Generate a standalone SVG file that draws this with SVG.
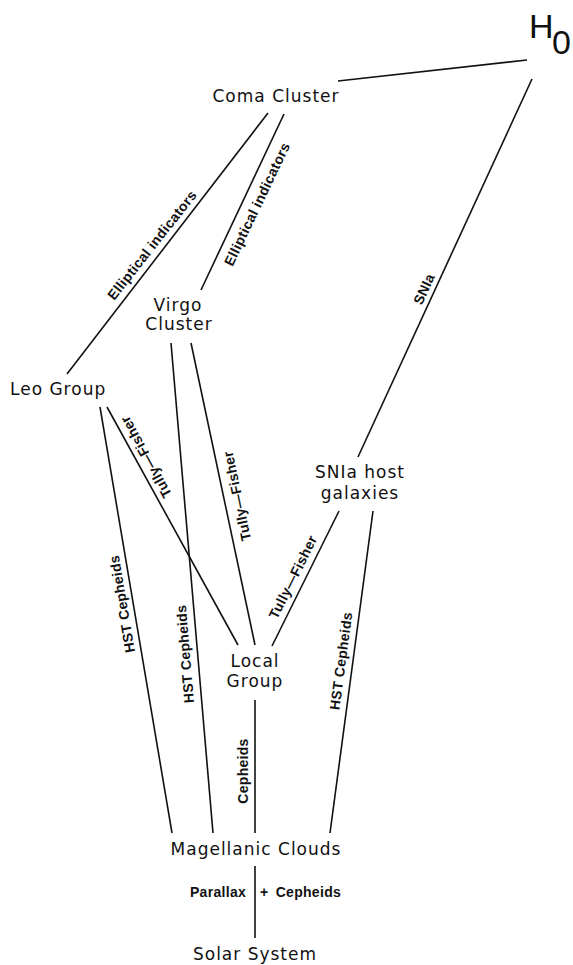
<svg xmlns="http://www.w3.org/2000/svg" width="573" height="965" viewBox="0 0 573 965">
<style>
.n{font-family:"DejaVu Sans",sans-serif;font-size:17px;letter-spacing:1px;fill:#111;text-anchor:middle}
.l{font-family:"Liberation Sans",Arial,sans-serif;font-size:14px;font-weight:bold;letter-spacing:0.3px;fill:#111;text-anchor:middle}
.h{font-family:"Liberation Sans",Arial,sans-serif;font-size:34px;fill:#111}
#connectors line{stroke:#111;stroke-width:1.6;fill:none}
</style>
<rect width="573" height="965" fill="#fff"/>
<g id="connectors">
<line x1="338" y1="81" x2="527" y2="60"/>
<line x1="532" y1="79" x2="358" y2="457"/>
<line x1="268" y1="113" x2="67" y2="374"/>
<line x1="284" y1="114" x2="201" y2="290"/>
<line x1="100" y1="407" x2="172" y2="833"/>
<line x1="107" y1="407" x2="238" y2="645"/>
<line x1="171" y1="343" x2="213" y2="833"/>
<line x1="191" y1="343" x2="255" y2="645"/>
<line x1="339" y1="511" x2="272" y2="646"/>
<line x1="373" y1="511" x2="330" y2="833"/>
<line x1="255" y1="700" x2="255" y2="833"/>
<line x1="255" y1="866" x2="255" y2="938"/>
</g>
<g id="labels">
<text class="l" transform="translate(152,245) rotate(-51.8)" dy="0.35em">Elliptical indicators</text>
<text class="l" transform="translate(257,204) rotate(-64.5)" dy="0.35em">Elliptical indicators</text>
<text class="l" transform="translate(424,289) rotate(-65.3)" dy="0.35em">SNIa</text>
<text class="l" transform="translate(146,457) rotate(-118.8)" dy="0.35em">Tully—Fisher</text>
<text class="l" transform="translate(237,496) rotate(-101.9)" dy="0.35em">Tully—Fisher</text>
<text class="l" transform="translate(293,577) rotate(-63.6)" dy="0.35em">Tully—Fisher</text>
<text class="l" transform="translate(122,604) rotate(-99.6)" dy="0.35em">HST Cepheids</text>
<text class="l" transform="translate(185,654) rotate(-94.8)" dy="0.35em">HST Cepheids</text>
<text class="l" transform="translate(341,661) rotate(-82.4)" dy="0.35em">HST Cepheids</text>
<text class="l" transform="translate(243,771) rotate(-90)" dy="0.35em">Cepheids</text>
<text class="l" x="218" y="897">Parallax</text>
<text class="l" x="260" y="897" style="text-anchor:start" word-spacing="3">+ Cepheids</text>
</g>
<g id="H0"><text class="h" x="529" y="38">H</text><text class="h" x="552" y="54">0</text></g>
<g id="coma"><text class="n" x="276" y="102">Coma Cluster</text></g>
<g id="virgo"><text class="n" x="178" y="311">Virgo</text><text class="n" x="179" y="330">Cluster</text></g>
<g id="leo"><text class="n" x="10" y="395" style="text-anchor:start">Leo Group</text></g>
<g id="snia"><text class="n" x="360" y="478">SNIa host</text><text class="n" x="360" y="499">galaxies</text></g>
<g id="local"><text class="n" x="255" y="667">Local</text><text class="n" x="255" y="687">Group</text></g>
<g id="magellanic"><text class="n" x="256" y="855">Magellanic Clouds</text></g>
<g id="solar"><text class="n" x="255" y="960">Solar System</text></g>
</svg>
